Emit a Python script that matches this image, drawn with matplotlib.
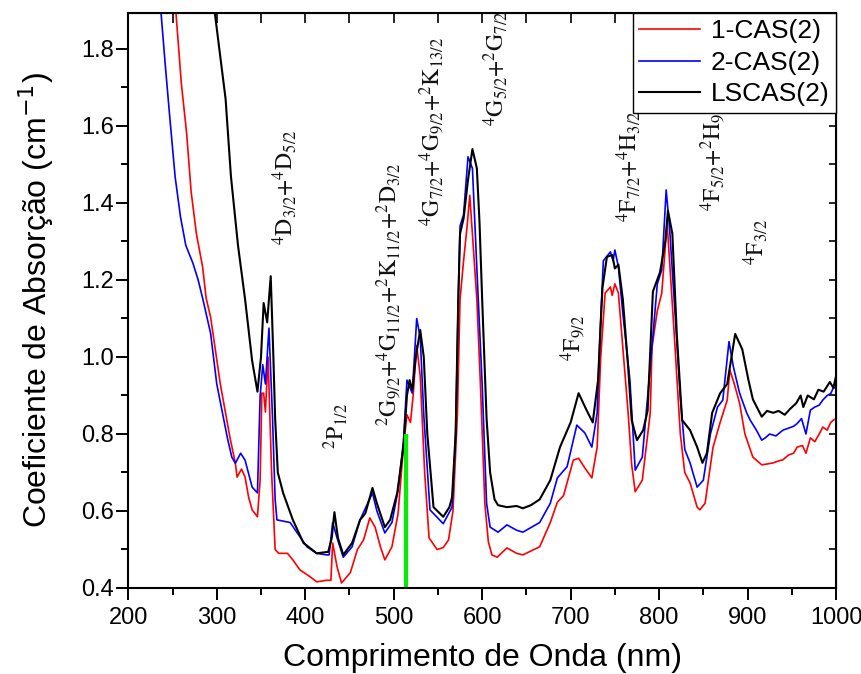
import matplotlib
matplotlib.use("Agg")
import matplotlib.pyplot as plt

# Data (wavelength nm, absorption cm^-1)
x_red = [254, 260, 266, 271, 277, 284, 288, 293, 304, 315, 321, 323, 328, 332, 336, 340, 346, 349, 351,
         353, 355, 358, 362, 366, 370, 380, 386, 394, 405, 413, 424, 429, 431, 436, 441, 451, 459, 466,
         473, 479, 485, 490, 498, 505, 511, 515, 519, 522, 526, 530, 535, 540, 549, 556, 562, 567, 572,
         575, 579, 583, 586, 589, 594, 598, 603, 607, 611, 617, 628, 639, 646, 665, 677, 685, 692, 703,
         709, 716, 724, 730, 734, 739, 745, 747, 750, 754, 759, 765, 769, 773, 781, 790, 792, 798, 803,
         807, 809, 812, 818, 824, 829, 835, 843, 846, 852, 861, 869, 877, 880, 885, 891, 897, 906, 916,
         922, 929, 935, 940, 946, 952, 956, 962, 966, 971, 976, 981, 985, 990, 994, 997, 1000]
y_red = [1.89, 1.71, 1.58, 1.43, 1.32, 1.234, 1.153, 1.104, 0.93, 0.79, 0.724, 0.688, 0.709, 0.688,
         0.636, 0.603, 0.585, 0.68, 0.906, 0.906, 0.857, 1.0, 0.70, 0.50, 0.49, 0.49, 0.473, 0.447,
         0.43, 0.416, 0.42, 0.42, 0.517, 0.455, 0.413, 0.44, 0.5, 0.525, 0.582, 0.558, 0.507, 0.473,
         0.507, 0.594, 0.766, 0.85, 0.83, 0.9, 1.03, 0.95, 0.70, 0.53, 0.50, 0.505, 0.525, 0.60, 0.85,
         1.15, 1.25, 1.34, 1.42, 1.32, 1.15, 0.93, 0.62, 0.52, 0.486, 0.48, 0.504, 0.49, 0.486, 0.507,
         0.57, 0.623, 0.64, 0.732, 0.737, 0.712, 0.686, 0.766, 1.0, 1.166, 1.182, 1.16, 1.19, 1.166,
         1.026, 0.855, 0.72, 0.65, 0.68, 0.855, 1.026, 1.12, 1.166, 1.286, 1.35, 1.244, 1.026, 0.80,
         0.70, 0.673, 0.61, 0.603, 0.62, 0.766, 0.83, 0.888, 0.966, 0.93, 0.88, 0.80, 0.74, 0.72,
         0.722, 0.725, 0.73, 0.733, 0.745, 0.75, 0.766, 0.77, 0.75, 0.79, 0.78, 0.80, 0.818, 0.81,
         0.83, 0.836, 0.84]

x_blue = [237, 242, 247, 253, 259, 265, 273, 279, 284, 293, 300, 312, 317, 321, 327, 332, 340, 346, 349,
          352, 355, 359, 363, 366, 368, 383, 391, 402, 413, 424, 427, 431, 436, 443, 453, 462, 476, 481,
          490, 498, 505, 511, 515, 521, 526, 530, 534, 541, 556, 566, 570, 573, 575, 579, 584, 589, 594,
          600, 605, 609, 618, 628, 639, 646, 665, 677, 685, 696, 707, 716, 724, 730, 733, 737, 745, 748,
          750, 754, 759, 767, 773, 781, 790, 798, 803, 808, 812, 818, 824, 829, 835, 843, 850, 858, 866,
          872, 879, 884, 891, 899, 903, 910, 916, 920, 925, 932, 940, 946, 952, 956, 961, 966, 971, 976,
          981, 985, 990, 994, 997, 1000]
y_blue = [1.894, 1.753, 1.62, 1.467, 1.364, 1.29, 1.244, 1.2, 1.153, 1.062, 0.93, 0.79, 0.74, 0.724,
          0.75, 0.732, 0.662, 0.647, 0.897, 0.98, 0.93, 1.075, 0.844, 0.63, 0.577, 0.57, 0.543, 0.507,
          0.49, 0.486, 0.486, 0.57, 0.53, 0.48, 0.507, 0.577, 0.647, 0.60, 0.543, 0.57, 0.655, 0.78,
          0.94, 0.906, 1.10, 1.05, 0.85, 0.603, 0.567, 0.61, 0.80, 1.15, 1.34, 1.37, 1.52, 1.49, 1.23,
          0.93, 0.62, 0.558, 0.545, 0.564, 0.55, 0.545, 0.57, 0.62, 0.686, 0.715, 0.823, 0.803, 0.766,
          0.855, 1.05, 1.25, 1.273, 1.25, 1.278, 1.234, 1.114, 0.94, 0.706, 0.74, 0.974, 1.19, 1.226,
          1.434, 1.33, 1.114, 0.896, 0.76, 0.725, 0.662, 0.68, 0.80, 0.87, 0.888, 1.04, 0.974, 0.906,
          0.855, 0.836, 0.81, 0.784, 0.79, 0.80, 0.795, 0.81, 0.815, 0.82, 0.827, 0.84, 0.80, 0.862,
          0.87, 0.875, 0.888, 0.9, 0.905, 0.92, 0.92]

x_black = [298, 304, 310, 316, 324, 332, 340, 346, 350, 353, 357, 361, 364, 366, 369, 375, 386, 398, 413,
           426, 430, 433, 437, 443, 453, 462, 468, 476, 481, 490, 496, 504, 511, 515, 518, 521, 525, 530,
           534, 538, 545, 556, 563, 566, 570, 573, 575, 579, 584, 589, 594, 597, 600, 605, 609, 614, 618,
           628, 639, 646, 655, 665, 677, 688, 700, 709, 718, 725, 731, 736, 741, 747, 750, 754, 759, 765,
           769, 775, 782, 787, 793, 801, 807, 810, 815, 820, 826, 835, 843, 849, 854, 860, 869, 877, 886,
           894, 901, 906, 916, 922, 929, 935, 942, 948, 955, 960, 963, 968, 975, 980, 986, 993, 997, 1000]
y_black = [1.89, 1.78, 1.67, 1.47, 1.29, 1.15, 0.99, 0.91, 1.0, 1.14, 1.09, 1.21, 1.0, 0.84, 0.70,
           0.647, 0.577, 0.517, 0.49, 0.494, 0.53, 0.597, 0.53, 0.486, 0.517, 0.577, 0.594, 0.66, 0.62,
           0.558, 0.577, 0.647, 0.766, 0.90, 0.94, 0.914, 1.0, 1.07, 1.0, 0.80, 0.61, 0.585, 0.61, 0.636,
           0.80, 1.15, 1.32, 1.36, 1.46, 1.54, 1.49, 1.35, 1.15, 0.84, 0.70, 0.63, 0.615, 0.61, 0.613,
           0.607, 0.615, 0.63, 0.68, 0.766, 0.83, 0.906, 0.862, 0.83, 0.94, 1.18, 1.26, 1.265, 1.23,
           1.24, 1.15, 0.974, 0.836, 0.784, 0.81, 0.86, 1.17, 1.22, 1.30, 1.38, 1.32, 1.06, 0.836, 0.81,
           0.766, 0.725, 0.75, 0.855, 0.906, 0.93, 1.06, 1.02, 0.94, 0.89, 0.845, 0.86, 0.855, 0.86,
           0.85, 0.865, 0.88, 0.90, 0.87, 0.90, 0.89, 0.915, 0.91, 0.935, 0.92, 0.95]

# green marker line
green_x = 514
green_y = [0.4, 0.8]

# transition labels: (text, wavelength, bottom value)
labels = [
    (r"$^{4}\mathrm{D}_{3/2}{+}^{4}\mathrm{D}_{5/2}$", 377, 1.29),
    (r"$^{2}\mathrm{P}_{1/2}$", 434, 0.76),
    (r"$^{2}\mathrm{G}_{9/2}{+}^{4}\mathrm{G}_{11/2}{+}^{2}\mathrm{K}_{11/2}{+}^{2}\mathrm{D}_{3/2}$", 494, 0.82),
    (r"$^{4}\mathrm{G}_{7/2}{+}^{4}\mathrm{G}_{9/2}{+}^{2}\mathrm{K}_{13/2}$", 543, 1.34),
    (r"$^{4}\mathrm{G}_{5/2}{+}^{2}\mathrm{G}_{7/2}$", 615, 1.60),
    (r"$^{4}\mathrm{F}_{9/2}$", 703, 0.99),
    (r"$^{4}\mathrm{F}_{7/2}{+}^{4}\mathrm{H}_{3/2}$", 765, 1.35),
    (r"$^{4}\mathrm{F}_{5/2}{+}^{2}\mathrm{H}_{9/2}$", 861, 1.38),
    (r"$^{4}\mathrm{F}_{3/2}$", 909, 1.24),
]

plt.rcParams["font.family"] = ["Liberation Sans", "DejaVu Sans"]

fig = plt.figure(figsize=(8.61, 6.74), dpi=100)
ax = fig.add_axes([0.149, 0.1276, 0.822, 0.8534])

ax.plot(x_red, y_red, color="#ff0000", lw=1.2, label="1-CAS(2)")
ax.plot(x_blue, y_blue, color="#0000ff", lw=1.2, label="2-CAS(2)")
ax.plot(x_black, y_black, color="black", lw=1.5, label="LSCAS(2)")
ax.plot([green_x, green_x], green_y, color="#00ee00", lw=3, solid_capstyle="butt")

for txt, xv, yv in labels:
    ax.text(xv, yv, txt, rotation=90, ha="center", va="bottom", fontsize=17,
            math_fontfamily="stix", color="#111111", zorder=3)

ax.set_xlim(200, 1000)
ax.set_ylim(0.4, 1.894)
ax.set_xticks(range(200, 1001, 100))
ax.set_xticks(range(250, 1000, 100), minor=True)
ax.set_yticks([0.4, 0.6, 0.8, 1.0, 1.2, 1.4, 1.6, 1.8])
ax.set_yticks([0.5, 0.7, 0.9, 1.1, 1.3, 1.5, 1.7], minor=True)
ax.tick_params(which="major", direction="out", length=8.5, width=1.4, labelsize=17)
ax.tick_params(which="minor", direction="out", length=5, width=1.4)
ax.tick_params(axis="x", which="major", pad=5)
ax.tick_params(axis="y", which="major", pad=2)
for s in ax.spines.values():
    s.set_linewidth(1.5)

top = ax.secondary_xaxis("top")
top.set_xticks(range(200, 1001, 50))
top.tick_params(direction="in", length=7, width=1.2, labeltop=False)
right = ax.secondary_yaxis("right")
right.set_yticks([0.4 + 0.1 * i for i in range(15)])
right.tick_params(direction="in", length=5, width=1.2, labelright=False)

ax.set_xlabel("Comprimento de Onda (nm)", fontsize=23, labelpad=10)
ax.set_ylabel(r"Coeficiente de Absorção (cm$^{-1}$)", fontsize=23, labelpad=18)

leg = ax.legend(loc="upper right", fontsize=19, fancybox=False, edgecolor="black",
                framealpha=1, borderaxespad=0, handlelength=2.3, labelspacing=0.28,
                borderpad=0.25, handletextpad=0.4)
leg.get_frame().set_linewidth(1.0)
leg.set_zorder(10)

plt.savefig("out.png", dpi=100)
plt.close()
